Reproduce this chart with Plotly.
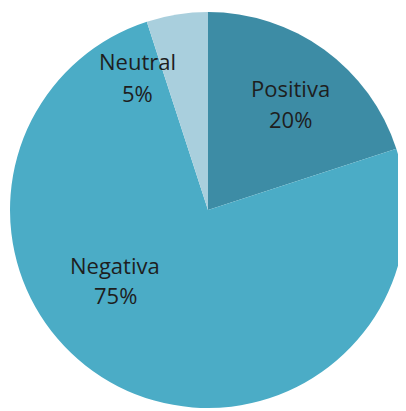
import plotly.graph_objects as go

labels = ["Positiva", "Negativa", "Neutral"]
values = [20, 75, 5]
colors = ["#3D8CA5", "#4BACC6", "#A9CFDD"]

W, H = 398, 403  # page body has an 8px margin inside the 406x411 window

# label positions in figure pixels: (centre x, name line y, percent line y)
label_px = [(282, 80, 111), (107, 257, 287), (129, 53, 85)]

fig = go.Figure(go.Pie(
    labels=labels,
    values=values,
    sort=False,
    direction="clockwise",
    rotation=0,
    marker=dict(colors=colors, line=dict(width=0)),
    textinfo="none",
    hoverinfo="label+percent",
    showlegend=False,
    domain=dict(x=[2 / W, 1.0], y=[1 - 401 / H, 1 - 3 / H]),
))

total = sum(values)
font = dict(family="Open Sans", size=22, color="#1e1e1e")
for lab, v, (px, py1, py2) in zip(labels, values, label_px):
    for txt, py in ((lab, py1), (f"{round(100 * v / total)}%", py2)):
        fig.add_annotation(
            x=px / W, y=1 - py / H, xref="paper", yref="paper",
            xanchor="center", yanchor="middle",
            text=txt, showarrow=False, font=font,
        )

fig.update_layout(
    width=W, height=H,
    margin=dict(l=0, r=0, t=0, b=0),
    paper_bgcolor="white",
    plot_bgcolor="white",
)

fig.write_html("out.html")
